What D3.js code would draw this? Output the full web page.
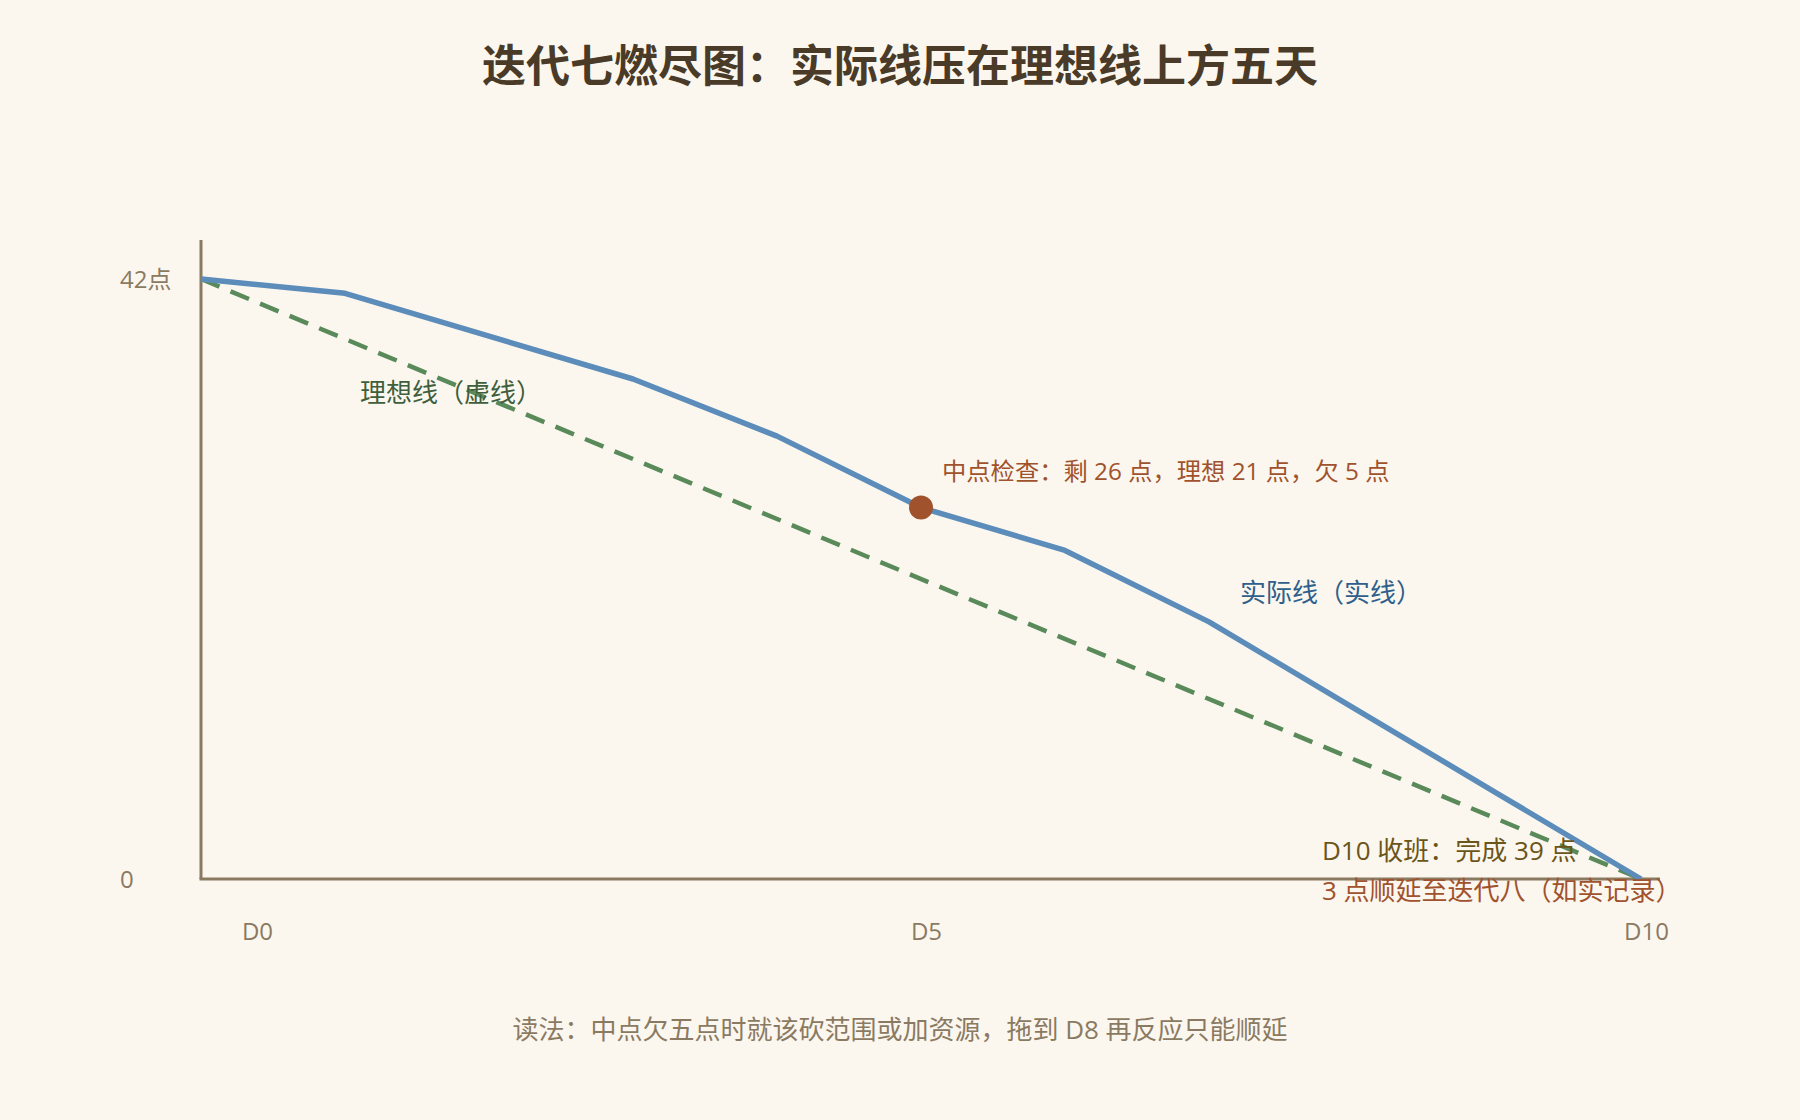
<!DOCTYPE html>
<html>
<head>
<meta charset="utf-8">
<script src="https://cdn.jsdelivr.net/npm/d3@7"></script>
<style>
  html, body { margin: 0; padding: 0; background: #fbf7ef; }
  svg { display: block; }
  text { font-family: "Open Sans", "Noto Sans CJK SC", sans-serif; }
</style>
</head>
<body>
<svg id="chart" width="1800" height="1120"></svg>
<script>
// data
var days = [0, 1, 2, 3, 4, 5, 6, 7, 8, 9, 10];
var actual = [42, 41, 38, 35, 31, 26, 23, 18, 12, 6, 0];
var ideal = [42, 0];           // straight line D0 -> D10
var idealDays = [0, 10];
var xTicks = [0, 5, 10];
var yTicks = [0, 42];
var midDay = 5;

var svg = d3.select("#chart");

var x = d3.scaleLinear().domain([0, 10]).range([201, 1641]);
var y = d3.scaleLinear().domain([0, 42]).range([879, 279]);

var axisColor = "#8b7a62";

// title
svg.append("text")
  .attr("x", 900).attr("y", 82)
  .attr("text-anchor", "middle")
  .attr("font-size", 44).attr("font-weight", 700)
  .style("font-family", "'Noto Sans CJK SC', sans-serif")
  .attr("fill", "#4a3a28")
  .text("迭代七燃尽图：实际线压在理想线上方五天");

// axes lines
svg.append("line")
  .attr("x1", x(0)).attr("x2", x(0))
  .attr("y1", y(0)).attr("y2", y(42) - 39)
  .attr("stroke", axisColor).attr("stroke-width", 3);
svg.append("line")
  .attr("x1", x(0) - 1.5).attr("x2", x(10) + 19)
  .attr("y1", y(0)).attr("y2", y(0))
  .attr("stroke", axisColor).attr("stroke-width", 3);

// y ticks (labels only)
var yAxis = svg.append("g")
  .attr("transform", "translate(" + x(0) + ",0)")
  .call(d3.axisLeft(y).tickValues(yTicks).tickSize(0)
    .tickFormat(function(d) { return d ? d + "点" : "0"; }));
yAxis.select(".domain").remove();
yAxis.attr("font-family", null);
yAxis.selectAll("text")
  .attr("x", -81).attr("dy", "0.35em")
  .attr("text-anchor", "start")
  .attr("font-size", 24)
  .attr("fill", axisColor);

// x ticks (labels only)
var xAxis = svg.append("g")
  .attr("transform", "translate(0," + y(0) + ")")
  .call(d3.axisBottom(x).tickValues(xTicks).tickSize(0)
    .tickFormat(function(d) { return "D" + d; }));
xAxis.select(".domain").remove();
xAxis.attr("font-family", null);
xAxis.selectAll("text")
  .attr("y", 61).attr("dy", 0)
  .attr("dx", function(d) { return d === 0 ? 56 : 5; })
  .attr("font-size", 24)
  .attr("fill", axisColor);

// ideal line (dashed)
var idealLine = d3.line()
  .x(function(d, i) { return x(idealDays[i]); })
  .y(function(d) { return y(d); });
svg.append("path")
  .datum(ideal)
  .attr("d", idealLine)
  .attr("fill", "none")
  .attr("stroke", "#5a8a5a")
  .attr("stroke-width", 4.5)
  .attr("stroke-dasharray", "20 12");

// actual line
var actualLine = d3.line()
  .x(function(d, i) { return x(days[i]); })
  .y(function(d) { return y(d); });
svg.append("path")
  .datum(actual)
  .attr("d", actualLine)
  .attr("fill", "none")
  .attr("stroke", "#5b8cba")
  .attr("stroke-width", 5.5)
  .attr("stroke-linejoin", "round");

// midpoint dot
svg.append("circle")
  .attr("cx", x(midDay)).attr("cy", y(actual[midDay]))
  .attr("r", 12)
  .attr("fill", "#a0522d");

// annotations
svg.append("text")
  .attr("x", x(0) + 159).attr("y", 402)
  .attr("font-size", 26).attr("fill", "#3f5e3c")
  .text("理想线（虚线）");

svg.append("text")
  .attr("x", x(midDay) + 21).attr("y", y(actual[midDay]) - 28)
  .attr("font-size", 24.3).attr("fill", "#a0522d")
  .text("中点检查：剩 26 点，理想 21 点，欠 5 点");

svg.append("text")
  .attr("x", 1240).attr("y", 602)
  .attr("font-size", 26).attr("fill", "#2f5f8a")
  .text("实际线（实线）");

svg.append("text")
  .attr("x", 1322).attr("y", 860)
  .attr("font-size", 26).attr("fill", "#6b5518")
  .text("D10 收班：完成 39 点");

svg.append("text")
  .attr("x", 1322).attr("y", 900)
  .attr("font-size", 26).attr("fill", "#a0522d")
  .text("3 点顺延至迭代八（如实记录）");

// footer
svg.append("text")
  .attr("x", 900).attr("y", 1039)
  .attr("text-anchor", "middle")
  .attr("font-size", 26).attr("fill", axisColor)
  .text("读法：中点欠五点时就该砍范围或加资源，拖到 D8 再反应只能顺延");
</script>
</body>
</html>
